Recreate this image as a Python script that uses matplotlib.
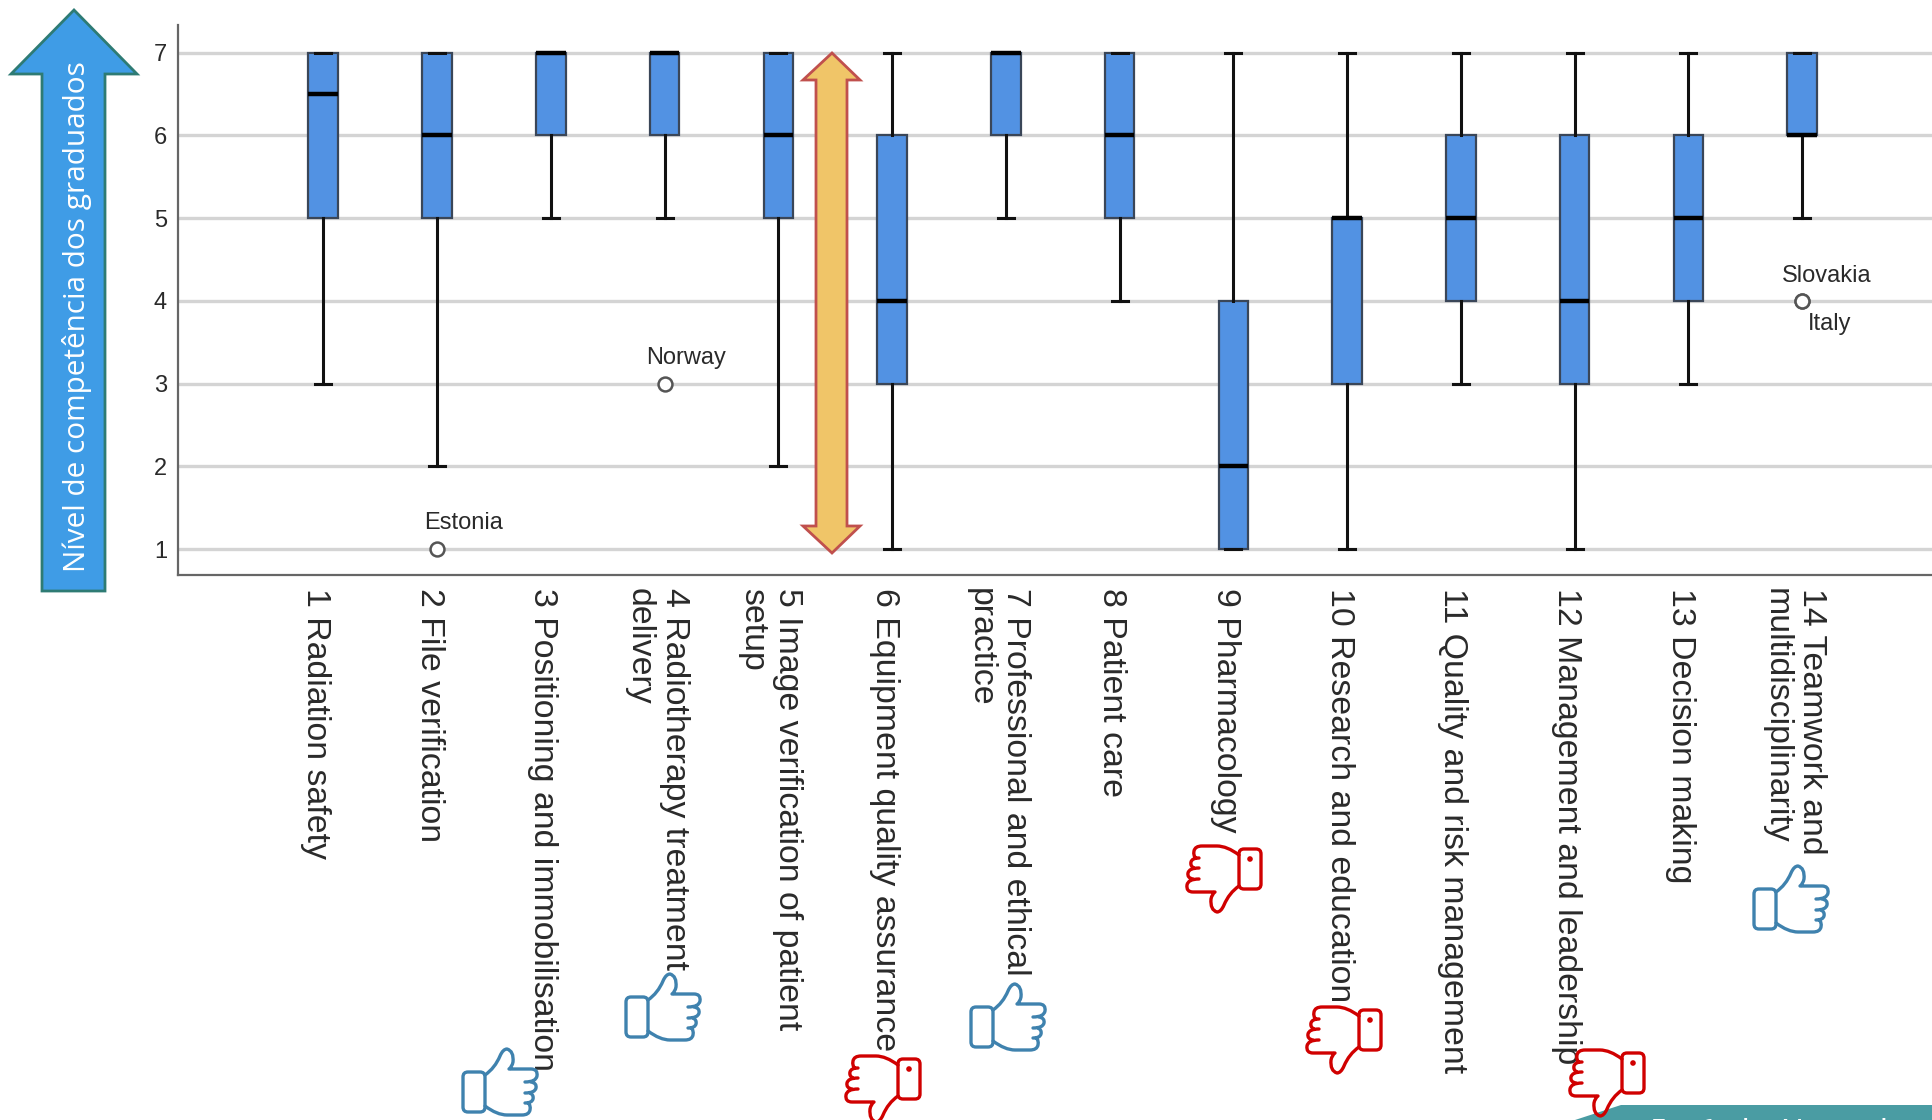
import numpy as np
import matplotlib
matplotlib.use('Agg')
import matplotlib.pyplot as plt
from matplotlib.path import Path
from matplotlib.patches import PathPatch, Polygon, FancyBboxPatch, Circle
from matplotlib.transforms import ScaledTranslation, Affine2D

plt.rcParams['font.family'] = ['Liberation Sans', 'DejaVu Sans']

W, H = 1933, 1120

# box values for the 14 competences
categories = ['1 Radiation safety', '2 File verification',
              '3 Positioning and immobilisation',
              '4 Radiotherapy treatment\ndelivery',
              '5 Image verification of patient\nsetup',
              '6 Equipment quality assurance',
              '7 Professional and ethical\npractice', '8 Patient care',
              '9 Pharmacology', '10 Research and education',
              '11 Quality and risk management',
              '12 Management and leadership', '13 Decision making',
              '14 Teamwork and\nmultidisciplinarity']
whisker_low = [3, 2, 5, 5, 2, 1, 5, 4, 1, 1, 3, 1, 3, 5]
q1 = [5, 5, 6, 6, 5, 3, 6, 5, 1, 3, 4, 3, 4, 6]
medians = [6.5, 6, 7, 7, 6, 4, 7, 6, 2, 5, 5, 4, 5, 6]
q3 = [7, 7, 7, 7, 7, 6, 7, 7, 4, 5, 6, 6, 6, 7]
whisker_high = [7, 7, 7, 7, 7, 7, 7, 7, 7, 7, 7, 7, 7, 7]

outlier_x = [2, 4, 14, 14]
outlier_y = [1, 3, 4, 4]
outlier_names = ['Estonia', 'Norway', 'Slovakia', 'Italy']
name_offsets = [(-13, 26), (-18, 26), (-20, 25), (6, -23)]

thumbs_up = [(462, 1048), (625, 973), (970, 983), (1753, 865)]
thumbs_down = [(846, 1057), (1187, 847), (1307, 1008), (1570, 1051)]

fig = plt.figure(figsize=(W / 100, H / 100), dpi=100)
ax = fig.add_axes([178 / W, 1 - 575 / H, (W - 178) / W, (575 - 25) / H])

stats = []
for i in range(14):
    stats.append({'whislo': whisker_low[i], 'q1': q1[i], 'med': medians[i],
                  'q3': q3[i], 'whishi': whisker_high[i], 'fliers': []})

ax.bxp(stats, positions=np.arange(1, 15), widths=0.26, patch_artist=True,
       showfliers=False, capwidths=0.14,
       boxprops=dict(facecolor='#5292e3', edgecolor='#3a4658', linewidth=1.6),
       medianprops=dict(color='black', linewidth=3.2, solid_capstyle='butt'),
       whiskerprops=dict(color='#111111', linewidth=2.2),
       capprops=dict(color='#111111', linewidth=2.2), zorder=3)

ax.plot(outlier_x, outlier_y, 'o', mfc='white', mec='#555555', mew=1.8, ms=10, zorder=3)
for x, y, name, off in zip(outlier_x, outlier_y, outlier_names, name_offsets):
    ax.annotate(name, (x, y), xytext=off, textcoords='offset pixels',
                fontsize=17, color='#2a2a2a', va='center', ha='left')

ax.set_xlim(-0.277, 15.15)
ax.set_ylim(0.686, 7.335)
ax.set_yticks(range(1, 8))
ax.yaxis.grid(True, color='#d4d4d4', linewidth=2.4)
ax.set_axisbelow(True)
for s in ['top', 'right']:
    ax.spines[s].set_visible(False)
for s in ['left', 'bottom']:
    ax.spines[s].set_color('#666666')
    ax.spines[s].set_linewidth(1.6)
ax.tick_params(axis='both', length=0)
ax.tick_params(axis='y', labelsize=17, labelcolor='#2a2a2a', pad=8)
ax.set_xticks(np.arange(1, 15))
ax.set_xticklabels(categories, rotation=270, ha='center', va='top',
                   fontsize=24.4, color='#2a2a2a', multialignment='left', linespacing=1.18)
ax.tick_params(axis='x', pad=9.5)
for lab in ax.get_xticklabels():
    lab.set_transform(lab.get_transform() + ScaledTranslation(-8 / 100, 0, fig.dpi_scale_trans))

# overlay in pixel coordinates for the slide decorations
ov = fig.add_axes([0, 0, 1, 1], facecolor='none')
ov.set_xlim(0, W)
ov.set_ylim(H, 0)
ov.axis('off')

# big arrow on the left
ov.add_patch(Polygon([(74, 10), (137, 74), (105, 74), (105, 591), (42, 591), (42, 74), (11, 74)],
                     closed=True, fc='#3f9ce6', ec='#2e7b74', lw=2))
ov.text(77, 317, 'Nível de competência dos graduados', rotation=90, color='white',
        fontsize=21.4, family=['Open Sans', 'DejaVu Sans'], ha='center', va='center')

# double arrow between the boxes
ov.add_patch(Polygon([(832, 53), (860, 80), (847, 80), (847, 526), (860, 526), (832, 553),
                      (803, 526), (816, 526), (816, 80), (803, 80)],
                     closed=True, fc='#f0c568', ec='#c0504d', lw=2))

# banner in the corner, the date runs off the bottom of the slide
ov.add_patch(Polygon([(1575, 1120), (1621, 1105), (W, 1105), (W, 1120)], closed=True,
                     fc='#4a9ca3', ec='none'))
ov.text(1649, 1141, '5 e 6  de  Novembro 2019', color='white', fontsize=22.5, va='baseline',
        ha='left', family=['Roboto', 'DejaVu Sans'])

# thumb outline, local units are px at the size of the icon
hand = Path([(23, 27), (33, 20), (38, 8), (41, 1), (45, 1), (52, 3), (51, 14), (50, 19), (47, 21),
             (69, 21), (76, 21), (75, 28), (74, 34), (63, 34),
             (69, 34), (75, 35), (74, 40), (73, 45), (63, 45),
             (68, 45), (72, 47), (71, 51), (70, 55), (63, 55),
             (66, 55), (69, 57), (68, 62), (67, 67), (60, 67),
             (45, 67), (35, 67), (23, 58)],
            [Path.MOVETO, Path.CURVE3, Path.CURVE3, Path.CURVE3, Path.CURVE3, Path.CURVE3, Path.CURVE3,
             Path.CURVE3, Path.CURVE3,
             Path.LINETO, Path.CURVE3, Path.CURVE3, Path.CURVE3, Path.CURVE3,
             Path.MOVETO, Path.CURVE3, Path.CURVE3, Path.CURVE3, Path.CURVE3,
             Path.MOVETO, Path.CURVE3, Path.CURVE3, Path.CURVE3, Path.CURVE3,
             Path.MOVETO, Path.CURVE3, Path.CURVE3, Path.CURVE3, Path.CURVE3,
             Path.LINETO, Path.CURVE3, Path.CURVE3])


def thumb(x0, y0, color, flip):
    if flip:
        t = Affine2D().scale(-1, -1).translate(75, 66).translate(x0, y0)
    else:
        t = Affine2D().translate(x0, y0)
    t = t + ov.transData
    ov.add_patch(PathPatch(hand, fc='none', ec=color, lw=2.4, transform=t,
                           capstyle='round', joinstyle='round'))
    ov.add_patch(FancyBboxPatch((1, 24), 22, 40, boxstyle='round,pad=0,rounding_size=5',
                                fc='none', ec=color, lw=2.4, transform=t))
    if flip:
        ov.add_patch(Circle((12, 54), 2.8, fc=color, ec='none', transform=t))


for x0, y0 in thumbs_up:
    thumb(x0, y0, '#3f82ae', False)
for x0, y0 in thumbs_down:
    thumb(x0, y0, '#d00000', True)

fig.savefig('out.png', dpi=100)
